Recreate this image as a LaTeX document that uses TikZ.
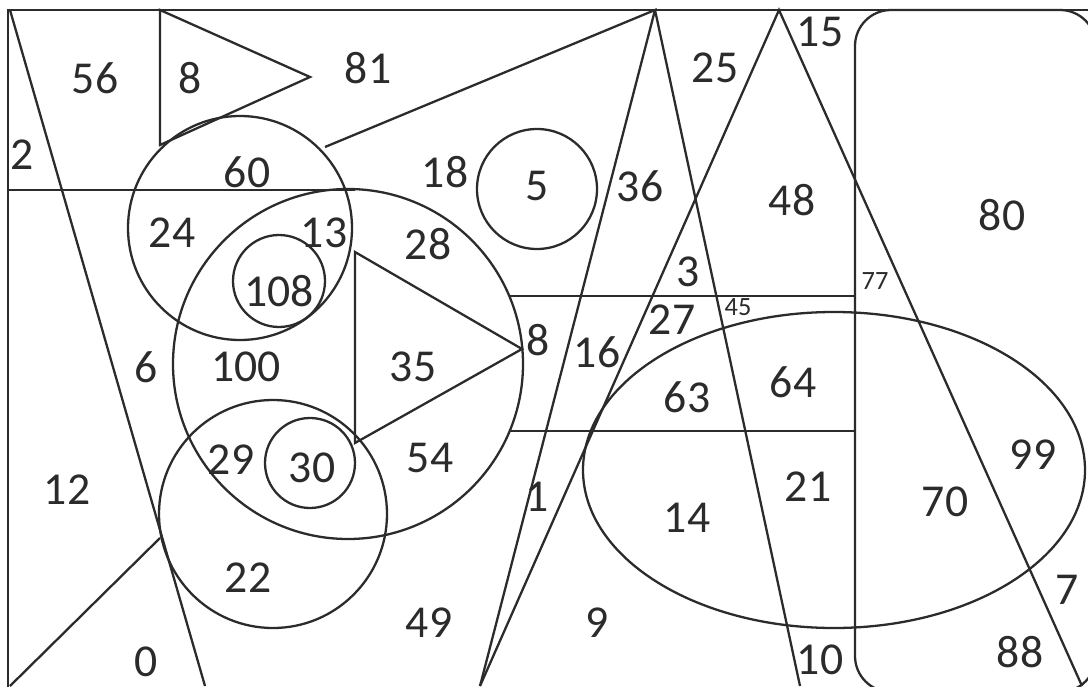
\documentclass[tikz,border=0pt]{standalone}
\usepackage{fontspec}
\setmainfont{Carlito}
\definecolor{ink}{HTML}{2B2B2B}
\tikzset{
  num/.style={text=ink,inner sep=0pt,font=\fontsize{26}{28}\selectfont},
  tiny/.style={text=ink,inner sep=0pt,font=\fontsize{15}{17}\selectfont}
}
\begin{document}
\begin{tikzpicture}[x=0.02cm,y=-0.02cm,line width=1.3pt,draw=ink]
\useasboundingbox (0,0) rectangle (1088,686);
\clip (0,0) rectangle (1088,686);
\fill[white] (0,0) rectangle (1088,686);
\draw[ink] (8,10) rectangle (1110,710);
\draw[ink] (10,10)--(205,686);
\draw[ink] (8,190)--(355,190);
\draw[ink] (160,10)--(310,77)--(160,145)--cycle;
\draw[ink] (325,147)--(655,10)--(480,686);
\draw[ink] (655,10)--(800,686);
\draw[ink] (480,686)--(779,10)--(1082,686);
\draw[ink] (10,686)--(160,538);
\draw[ink] (355,252)--(522,349)--(355,443)--cycle;
\draw[ink] (510,296)--(855,296) (510,431)--(855,431);
\draw[ink,rounded corners=0.72cm] (855,10) rectangle (1096,692);
\draw[ink] (240,228) circle (112);
\draw[ink] (279,281) circle (46);
\draw[ink] (348,364) circle (175);
\draw[ink] (273,514) circle (114);
\draw[ink] (310,463) circle (45);
\draw[ink] (537,189) circle (60);
\draw[ink] (834,470) ellipse (251 and 158);
\node[num] (r56) at (95,78) {56};
\node[num] (r8a) at (190,78) {8};
\node[num] (r81) at (368,68) {81};
\node[num] (r2) at (22,155) {2};
\node[num] (r60) at (247,172) {60};
\node[num] (r18) at (445,172) {18};
\node[num] (r5) at (537,186) {5};
\node[num] (r36) at (640,186) {36};
\node[num] (r25) at (715,68) {25};
\node[num] (r15) at (820,32) {15};
\node[num] (r48) at (792,200) {48};
\node[num] (r80) at (1002,215) {80};
\node[num] (r24) at (172,233) {24};
\node[num] (r13) at (324,233) {13};
\node[num] (r28) at (428,244) {28};
\node[num] (r108) at (279,291) {108};
\node[num] (r3) at (688,272) {3};
\node[tiny] (r77) at (875,281) {77};
\node[tiny] (r45) at (738,307) {45};
\node[num] (r27) at (672,320) {27};
\node[num] (r8b) at (538,340) {8};
\node[num] (r16) at (597,352) {16};
\node[num] (r6) at (146,367) {6};
\node[num] (r100) at (246,367) {100};
\node[num] (r35) at (413,367) {35};
\node[num] (r63) at (687,397) {63};
\node[num] (r64) at (793,382) {64};
\node[num] (r29) at (231,460) {29};
\node[num] (r30) at (312,468) {30};
\node[num] (r54) at (430,458) {54};
\node[num] (r99) at (1033,455) {99};
\node[num] (r12) at (67,490) {12};
\node[num] (r1) at (537,497) {1};
\node[num] (r21) at (808,487) {21};
\node[num] (r14) at (687,518) {14};
\node[num] (r70) at (945,502) {70};
\node[num] (r22) at (248,578) {22};
\node[num] (r7) at (1067,590) {7};
\node[num] (r0) at (146,662) {0};
\node[num] (r49) at (429,623) {49};
\node[num] (r9) at (597,623) {9};
\node[num] (r88) at (1020,652) {88};
\node[num] (r10) at (820,660) {10};
\end{tikzpicture}
\end{document}
